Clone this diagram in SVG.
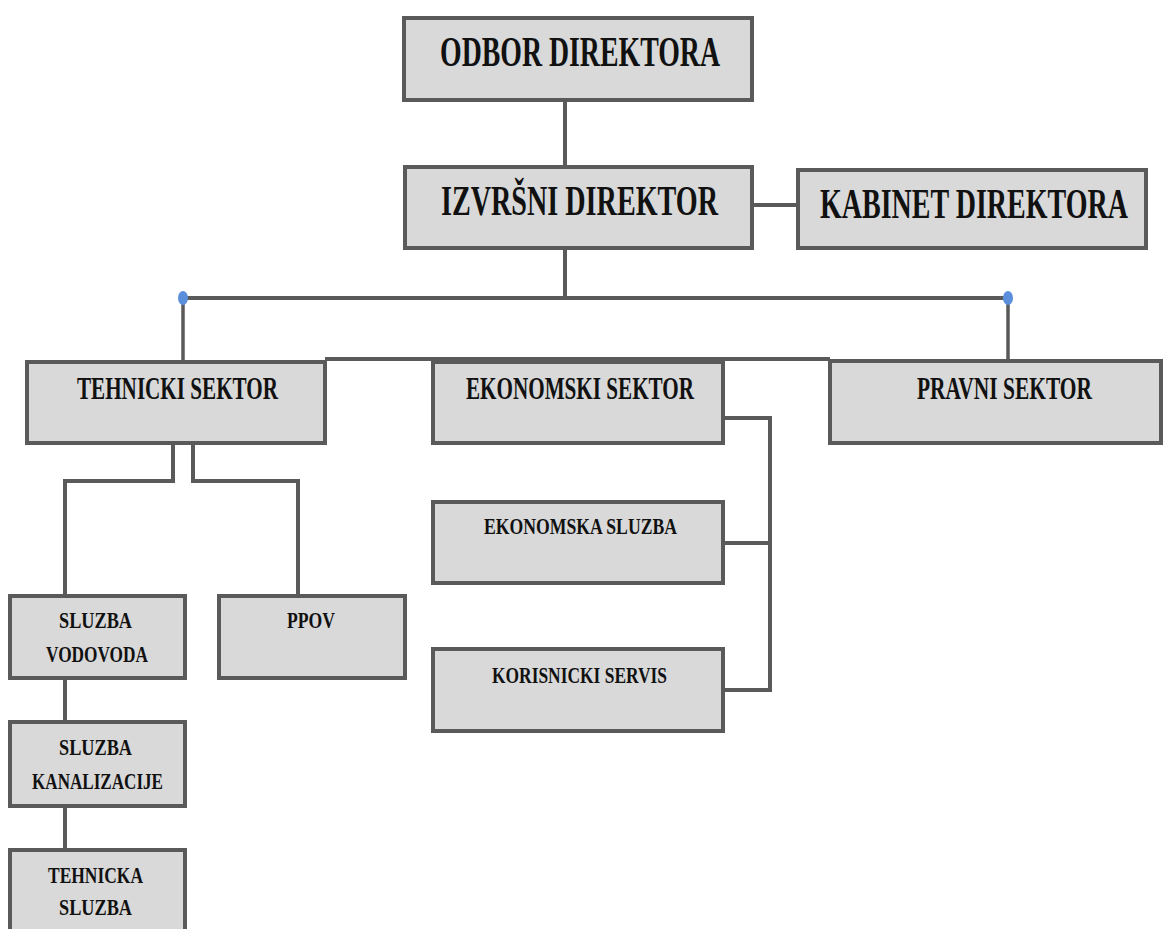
<svg xmlns="http://www.w3.org/2000/svg" width="1164" height="929" viewBox="0 0 1164 929">
<style>
.box{fill:#d9d9d9;stroke:#5a5a5a;stroke-width:4}
.ln{fill:none;stroke:#5a5a5a;stroke-width:4}
.ln3{fill:none;stroke:#5a5a5a;stroke-width:3.5}
text{font-family:"Liberation Serif","Times New Roman",serif;font-weight:bold;fill:#111}
.t1{font-size:42px}
.t2{font-size:32px}
.t3{font-size:24px}
.dot{fill:#5b8fdc}
</style>
<rect width="1164" height="929" fill="#fff"/>
<g id="connectors">
<line class="ln" x1="565" y1="100" x2="565" y2="167"/>
<line class="ln" x1="752" y1="205" x2="798" y2="205"/>
<line class="ln" x1="565" y1="248" x2="565" y2="298"/>
<line class="ln" x1="183" y1="298" x2="1008" y2="298"/>
<line class="ln3" x1="183" y1="298" x2="183" y2="362"/>
<line class="ln3" x1="1008" y1="298" x2="1008" y2="360"/>
<line class="ln" x1="325" y1="359" x2="830" y2="359"/>
<polyline class="ln" points="723,418 770,418 770,690 723,690"/>
<line class="ln" x1="723" y1="543" x2="770" y2="543"/>
<polyline class="ln" points="173,443 173,481 65,481 65,596"/>
<polyline class="ln" points="193,443 193,481 298,481 298,596"/>
<line class="ln" x1="65" y1="678" x2="65" y2="722"/>
<line class="ln" x1="65" y1="806" x2="65" y2="850"/>
<ellipse class="dot" cx="183" cy="298" rx="5" ry="7"/>
<ellipse class="dot" cx="1008" cy="298" rx="5" ry="7"/>
</g>
<g id="odbor"><rect class="box" x="404" y="18" width="348" height="82"/><text class="t1" x="440" y="66" textLength="280" lengthAdjust="spacingAndGlyphs">ODBOR DIREKTORA</text></g>
<g id="izvrsni"><rect class="box" x="405" y="167" width="347" height="81"/><text class="t1" x="441" y="215" textLength="277" lengthAdjust="spacingAndGlyphs">IZVRŠNI DIREKTOR</text></g>
<g id="kabinet"><rect class="box" x="798" y="170" width="348" height="78"/><text class="t1" x="820" y="218" textLength="308" lengthAdjust="spacingAndGlyphs">KABINET DIREKTORA</text></g>
<g id="tehnicki"><rect class="box" x="27" y="362" width="298" height="81"/><text class="t2" x="77" y="399" textLength="201" lengthAdjust="spacingAndGlyphs">TEHNICKI SEKTOR</text></g>
<g id="ekonomski"><rect class="box" x="433" y="362" width="290" height="81"/><text class="t2" x="466" y="399" textLength="228" lengthAdjust="spacingAndGlyphs">EKONOMSKI SEKTOR</text></g>
<g id="pravni"><rect class="box" x="830" y="361" width="331" height="82"/><text class="t2" x="917" y="399" textLength="175" lengthAdjust="spacingAndGlyphs">PRAVNI SEKTOR</text></g>
<g id="ekonomska-sluzba"><rect class="box" x="433" y="502" width="290" height="81"/><text class="t3" x="484" y="534" textLength="193" lengthAdjust="spacingAndGlyphs">EKONOMSKA SLUZBA</text></g>
<g id="korisnicki-servis"><rect class="box" x="433" y="649" width="290" height="82"/><text class="t3" x="492" y="683" textLength="175" lengthAdjust="spacingAndGlyphs">KORISNICKI SERVIS</text></g>
<g id="sluzba-vodovoda"><rect class="box" x="10" y="596" width="175" height="82"/><text class="t3" x="59" y="628" textLength="73" lengthAdjust="spacingAndGlyphs">SLUZBA</text><text class="t3" x="46" y="662" textLength="102" lengthAdjust="spacingAndGlyphs">VODOVODA</text></g>
<g id="ppov"><rect class="box" x="219" y="596" width="186" height="82"/><text class="t3" x="287" y="628" textLength="48" lengthAdjust="spacingAndGlyphs">PPOV</text></g>
<g id="sluzba-kanalizacije"><rect class="box" x="10" y="722" width="175" height="84"/><text class="t3" x="59" y="755" textLength="73" lengthAdjust="spacingAndGlyphs">SLUZBA</text><text class="t3" x="32" y="789" textLength="131" lengthAdjust="spacingAndGlyphs">KANALIZACIJE</text></g>
<g id="tehnicka-sluzba"><rect class="box" x="10" y="850" width="175" height="90"/><text class="t3" x="48" y="883" textLength="95" lengthAdjust="spacingAndGlyphs">TEHNICKA</text><text class="t3" x="59" y="915" textLength="73" lengthAdjust="spacingAndGlyphs">SLUZBA</text></g>
</svg>
